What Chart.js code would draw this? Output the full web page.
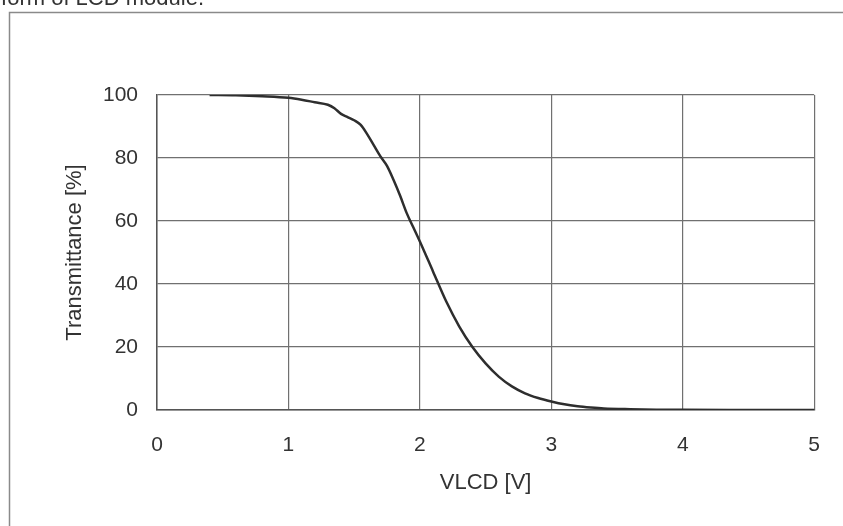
<!DOCTYPE html>
<html>
<head>
<meta charset="utf-8">
<script src="https://cdn.jsdelivr.net/npm/chart.js@4.4.1/dist/chart.umd.min.js"></script>
<style>
  html, body { margin: 0; padding: 0; background: #fff; }
  #wrap { width: 843px; height: 526px; }
</style>
</head>
<body>
<div id="wrap"><canvas id="chart-trans" width="843" height="526"></canvas></div>
<script>
// Transmittance vs VLCD
const vlcd = [0.4, 0.6, 0.8, 1.0, 1.1, 1.2, 1.3, 1.35, 1.4, 1.45, 1.5, 1.55, 1.6, 1.65, 1.7, 1.75, 1.8, 1.85, 1.9, 1.95, 2.0, 2.1, 2.2, 2.3, 2.4, 2.5, 2.6, 2.7, 2.8, 2.9, 3.0, 3.1, 3.2, 3.3, 3.4, 3.6, 3.8, 4.0, 4.5, 5.0];
const transmittance = [100, 99.9, 99.6, 99.1, 98.5, 97.7, 96.9, 95.8, 94, 93, 92, 90.5, 87.5, 84, 80.5, 77.5, 73, 68, 62.5, 58, 53.5, 44, 34.5, 26.5, 20, 14.8, 10.6, 7.5, 5.3, 3.8, 2.7, 1.8, 1.2, 0.8, 0.5, 0.25, 0.1, 0.05, 0.02, 0];
const xTicks = [0, 1, 2, 3, 4, 5];
const yTicks = [0, 20, 40, 60, 80, 100];

const FONT = "'Liberation Sans', Arial, sans-serif";
const TXT = '#333';

// frame around the figure + clipped caption at the top
const marco = {
  id: 'marco',
  beforeDraw(chart) {
    const ctx = chart.ctx;
    ctx.save();
    ctx.fillStyle = '#fff';
    ctx.fillRect(0, 0, chart.width, chart.height);
    ctx.strokeStyle = '#8a8a8a';
    ctx.lineWidth = 1.5;
    ctx.strokeRect(9.5, 12.5, 900, 600);
    ctx.fillStyle = TXT;
    ctx.font = '22px ' + FONT;
    ctx.textAlign = 'right';
    ctx.textBaseline = 'alphabetic';
    ctx.fillText('Waveform of LCD module.', 204, 5);
    ctx.restore();
  }
};

new Chart(document.getElementById('chart-trans'), {
  type: 'scatter',
  data: {
    datasets: [{
      data: vlcd.map((v, i) => ({ x: v, y: transmittance[i] })),
      showLine: true,
      borderColor: '#2e2e2e',
      borderWidth: 2.5,
      pointRadius: 0,
      cubicInterpolationMode: 'monotone'
    }]
  },
  options: {
    responsive: false,
    animation: false,
    layout: { padding: { top: 95, right: 28, left: 0, bottom: 0 } },
    plugins: { legend: { display: false }, tooltip: { enabled: false } },
    scales: {
      x: {
        type: 'linear', min: 0, max: 5,
        afterFit: s => { s.height = 116; },
        afterBuildTicks: s => { s.ticks = xTicks.map(v => ({ value: v })); },
        grid: { color: '#707070', lineWidth: 1.2, drawTicks: false },
        border: { color: '#555', width: 1.5 },
        ticks: { color: TXT, padding: 23, font: { family: FONT, size: 21 } },
        title: { display: true, text: 'VLCD [V]', color: TXT, padding: { bottom: 30 }, font: { family: FONT, size: 22 } }
      },
      y: {
        type: 'linear', min: 0, max: 100,
        afterFit: s => { s.width = 157; },
        afterBuildTicks: s => { s.ticks = yTicks.map(v => ({ value: v })); },
        grid: { color: '#707070', lineWidth: 1.2, drawTicks: false },
        border: { color: '#555', width: 1.5 },
        ticks: { color: TXT, padding: 19, font: { family: FONT, size: 21 } },
        title: { display: true, text: 'Transmittance [%]', color: TXT, padding: { top: 62 }, font: { family: FONT, size: 22 } }
      }
    }
  },
  plugins: [marco]
});
</script>
</body>
</html>
